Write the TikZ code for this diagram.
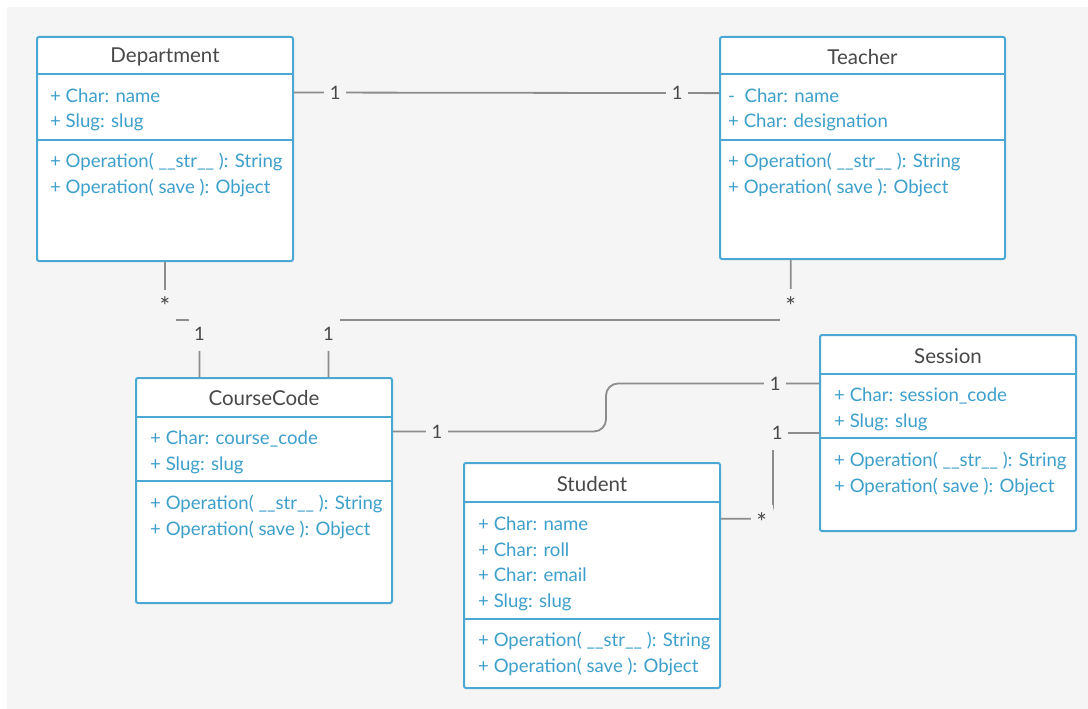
\documentclass[tikz,border=0pt]{standalone}
\usepackage{fontspec}
\setmainfont{Lato}
\usetikzlibrary{calc}

\definecolor{umlblue}{HTML}{4AA8D2}
\definecolor{membertext}{HTML}{3D9FCB}
\definecolor{headgray}{HTML}{484848}
\definecolor{linegray}{HTML}{8C8C8C}
\definecolor{bggray}{HTML}{F5F5F5}

\tikzset{
	classbox/.style={draw=umlblue, line width=2pt, fill=white, rounded corners=2pt, anchor=north west, inner sep=0pt},
	classname/.style={text=headgray, font=\fontsize{20.5}{24}\selectfont},
	members/.style={text=membertext, font=\fontsize{18.6}{25.5}\selectfont, align=left, anchor=base west, inner sep=0pt},
	assoc/.style={draw=linegray, line width=1.8pt, rounded corners=12pt},
	mult/.style={fill=bggray, text=headgray, inner sep=0pt, minimum width=22pt, minimum height=33pt, font=\fontsize{18.5}{22}\selectfont, rounded corners=0pt},
	multstar/.style={mult, font=\fontsize{25}{25}\selectfont}
}

\begin{document}
\begin{tikzpicture}[x=1pt, y=-1pt]
	\useasboundingbox (0,0) rectangle (1088,709);
	\fill[bggray] (7,7) rectangle (1088,709);

	% classes
	\node[classbox, minimum width=256pt, minimum height=224pt] (dept) at (36,36) {};
	\node[classbox, minimum width=285pt, minimum height=222pt] (teach) at (719,36) {};
	\node[classbox, minimum width=256pt, minimum height=225pt] (cc) at (135,377) {};
	\node[classbox, minimum width=256pt, minimum height=196pt] (sess) at (819,334) {};
	\node[classbox, minimum width=256pt, minimum height=225pt] (stud) at (463,462) {};

	\draw[umlblue, line width=2pt]
		([yshift=-38pt]dept.north west) -- ([yshift=-38pt]dept.north east)
		([yshift=-104pt]dept.north west) -- ([yshift=-104pt]dept.north east)
		([yshift=-38pt]teach.north west) -- ([yshift=-38pt]teach.north east)
		([yshift=-104pt]teach.north west) -- ([yshift=-104pt]teach.north east)
		([yshift=-40pt]cc.north west) -- ([yshift=-40pt]cc.north east)
		([yshift=-104pt]cc.north west) -- ([yshift=-104pt]cc.north east)
		([yshift=-40pt]sess.north west) -- ([yshift=-40pt]sess.north east)
		([yshift=-104pt]sess.north west) -- ([yshift=-104pt]sess.north east)
		([yshift=-40pt]stud.north west) -- ([yshift=-40pt]stud.north east)
		([yshift=-157pt]stud.north west) -- ([yshift=-157pt]stud.north east);

	\node[classname] (deptname) at ([yshift=-21pt]dept.north) {Department};
	\node[members] (deptattr) at ([xshift=14pt,yshift=-92pt]dept.north west) {+ Char: name\\+ Slug: slug};
	\node[members] (deptops) at ([xshift=14pt,yshift=-157pt]dept.north west) {+ Operation( \_\_str\_\_ ): String\\+ Operation( save ): Object};

	\node[classname] (teachname) at ([yshift=-21pt]teach.north) {Teacher};
	\node[members] (teachattr) at ([xshift=9pt,yshift=-92pt]teach.north west) {-\ \ Char: name\\+ Char: designation};
	\node[members] (teachops) at ([xshift=9pt,yshift=-157pt]teach.north west) {+ Operation( \_\_str\_\_ ): String\\+ Operation( save ): Object};

	\node[classname] (ccname) at ([yshift=-21pt]cc.north) {CourseCode};
	\node[members] (ccattr) at ([xshift=15pt,yshift=-93pt]cc.north west) {+ Char: course\_code\\+ Slug: slug};
	\node[members] (ccops) at ([xshift=15pt,yshift=-158pt]cc.north west) {+ Operation( \_\_str\_\_ ): String\\+ Operation( save ): Object};

	\node[classname] (sessname) at ([yshift=-22pt]sess.north) {Session};
	\node[members] (sessattr) at ([xshift=15pt,yshift=-93pt]sess.north west) {+ Char: session\_code\\+ Slug: slug};
	\node[members] (sessops) at ([xshift=15pt,yshift=-158pt]sess.north west) {+ Operation( \_\_str\_\_ ): String\\+ Operation( save ): Object};

	\node[classname] (studname) at ([yshift=-22pt]stud.north) {Student};
	\node[members] (studattr) at ([xshift=15pt,yshift=-145pt]stud.north west) {+ Char: name\\+ Char: roll\\+ Char: email\\+ Slug: slug};
	\node[members] (studops) at ([xshift=15pt,yshift=-210pt]stud.north west) {+ Operation( \_\_str\_\_ ): String\\+ Operation( save ): Object};

	% associations
	\draw[assoc] ($(dept.north east)!0.25!(dept.south east)$) -- ($(teach.north west)!0.255!(teach.south west)$)
		node[mult, pos=0.097] {1} node[mult, pos=0.902] {1};
	\draw[assoc] (dept.south) -- ++(0,58) node[multstar, pos=0.76] {*}
		-| ($(cc.north west)!0.25!(cc.north east)$) node[mult, pos=0.625] {1};
	\draw[assoc] ($(teach.south west)!0.25!(teach.south east)$) -- ++(0,60) node[multstar, pos=0.76] {*}
		-| ($(cc.north west)!0.75!(cc.north east)$) node[mult, pos=0.625] {1};
	\draw[assoc] ($(cc.north east)!0.24!(cc.south east)$) -| ($($(cc.north east)!0.24!(cc.south east)$)!0.5!($(sess.north west)!0.25!(sess.south west)$)$) node[mult, pos=0.103] {1}
		|- ($(sess.north west)!0.25!(sess.south west)$) node[mult, pos=0.897] {1};
	\draw[assoc] ($(stud.north east)!0.25!(stud.south east)$) -| ($(sess.west)+(-46,0)$) node[multstar, pos=0.39, yshift=-3pt] {*}
		-- (sess.west) node[mult, pos=0.09] {1};
\end{tikzpicture}
\end{document}
